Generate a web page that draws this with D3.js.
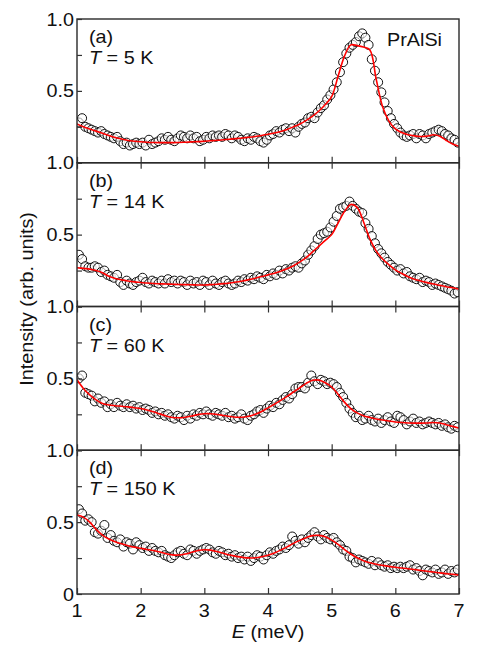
<!DOCTYPE html>
<html>
<head>
<meta charset="utf-8">
<script src="https://cdn.jsdelivr.net/npm/d3@7"></script>
<style>
  body { margin: 0; background: #fff; }
  text { font-family: "Liberation Sans", Arial, sans-serif; fill: #111; }
</style>
</head>
<body>
<svg id="chart" width="498" height="652"></svg>
<script>
// energy grid of the measured points (meV)
var energy = [
  1.03,1.08,1.13,1.18,1.23,1.28,1.33,1.38,1.43,1.48,
  1.53,1.58,1.63,1.68,1.73,1.78,1.83,1.88,1.93,1.98,
  2.03,2.08,2.13,2.18,2.23,2.28,2.33,2.38,2.43,2.48,
  2.53,2.58,2.63,2.68,2.73,2.78,2.83,2.88,2.93,2.98,
  3.03,3.08,3.13,3.18,3.23,3.28,3.33,3.38,3.43,3.48,
  3.53,3.58,3.63,3.68,3.73,3.78,3.83,3.88,3.93,3.98,
  4.03,4.08,4.13,4.18,4.23,4.28,4.33,4.38,4.43,4.48,
  4.53,4.58,4.63,4.68,4.73,4.78,4.83,4.88,4.93,4.98,
  5.03,5.08,5.13,5.18,5.23,5.28,5.33,5.38,5.43,5.48,
  5.53,5.58,5.63,5.68,5.73,5.78,5.83,5.88,5.93,5.98,
  6.03,6.08,6.13,6.18,6.23,6.28,6.33,6.38,6.43,6.48,
  6.53,6.58,6.63,6.68,6.73,6.78,6.83,6.88,6.93,6.98
];

var intensity5K = [
  0.28,0.31,0.25,0.24,0.23,0.22,0.21,0.22,0.20,0.19,
  0.18,0.17,0.18,0.15,0.13,0.14,0.12,0.13,0.14,0.13,
  0.14,0.12,0.16,0.13,0.14,0.15,0.17,0.16,0.18,0.16,
  0.15,0.17,0.19,0.18,0.17,0.19,0.17,0.18,0.15,0.16,
  0.18,0.17,0.19,0.18,0.19,0.18,0.20,0.19,0.17,0.19,
  0.18,0.16,0.15,0.17,0.16,0.18,0.17,0.15,0.14,0.16,
  0.19,0.20,0.22,0.21,0.23,0.24,0.22,0.24,0.21,0.25,
  0.27,0.28,0.31,0.32,0.31,0.35,0.38,0.40,0.44,0.47,
  0.51,0.56,0.63,0.70,0.76,0.80,0.82,0.84,0.88,0.90,
  0.87,0.82,0.72,0.64,0.56,0.49,0.42,0.36,0.31,0.27,
  0.24,0.21,0.19,0.18,0.19,0.20,0.17,0.20,0.19,0.17,
  0.20,0.21,0.22,0.23,0.22,0.20,0.19,0.17,0.16,0.14
];

var intensity14K = [
  0.36,0.33,0.28,0.27,0.27,0.28,0.27,0.24,0.25,0.22,
  0.21,0.20,0.22,0.17,0.15,0.18,0.16,0.15,0.17,0.18,
  0.20,0.17,0.16,0.18,0.17,0.16,0.18,0.16,0.19,0.17,
  0.18,0.16,0.18,0.17,0.15,0.18,0.16,0.17,0.15,0.18,
  0.17,0.15,0.18,0.16,0.15,0.17,0.18,0.16,0.15,0.16,
  0.18,0.17,0.19,0.18,0.20,0.19,0.21,0.20,0.19,0.22,
  0.21,0.23,0.22,0.25,0.23,0.26,0.25,0.27,0.28,0.27,
  0.30,0.32,0.36,0.39,0.42,0.47,0.50,0.51,0.52,0.55,
  0.59,0.63,0.68,0.69,0.70,0.73,0.70,0.68,0.66,0.65,
  0.58,0.54,0.49,0.44,0.40,0.37,0.34,0.31,0.29,0.27,
  0.25,0.26,0.23,0.24,0.21,0.20,0.19,0.20,0.17,0.18,
  0.17,0.15,0.16,0.15,0.14,0.13,0.12,0.11,0.09,0.10
];

var intensity60K = [
  0.50,0.52,0.40,0.39,0.38,0.34,0.36,0.33,0.34,0.30,
  0.32,0.30,0.33,0.31,0.30,0.32,0.30,0.31,0.29,0.30,
  0.28,0.29,0.28,0.26,0.27,0.25,0.26,0.24,0.25,0.23,
  0.22,0.24,0.23,0.21,0.24,0.22,0.25,0.24,0.26,0.25,
  0.27,0.25,0.24,0.26,0.25,0.24,0.26,0.23,0.24,0.22,
  0.23,0.25,0.22,0.21,0.24,0.25,0.27,0.28,0.26,0.29,
  0.31,0.30,0.33,0.32,0.35,0.37,0.36,0.39,0.43,0.44,
  0.44,0.43,0.47,0.52,0.48,0.46,0.49,0.48,0.46,0.47,
  0.46,0.44,0.40,0.37,0.33,0.29,0.26,0.23,0.24,0.21,
  0.22,0.24,0.21,0.20,0.22,0.19,0.21,0.23,0.20,0.19,
  0.24,0.23,0.21,0.18,0.20,0.22,0.19,0.20,0.18,0.19,
  0.20,0.19,0.18,0.19,0.17,0.18,0.16,0.15,0.17,0.16
];

var intensity150K = [
  0.59,0.56,0.51,0.52,0.50,0.43,0.42,0.44,0.48,0.39,
  0.41,0.37,0.36,0.38,0.33,0.36,0.35,0.31,0.36,0.34,
  0.32,0.33,0.30,0.32,0.30,0.29,0.30,0.27,0.26,0.25,
  0.27,0.29,0.30,0.28,0.27,0.31,0.30,0.28,0.30,0.31,
  0.32,0.31,0.29,0.28,0.30,0.29,0.27,0.28,0.26,0.27,
  0.25,0.26,0.24,0.26,0.23,0.25,0.27,0.26,0.24,0.27,
  0.29,0.28,0.30,0.31,0.33,0.32,0.34,0.40,0.37,0.35,
  0.38,0.36,0.39,0.41,0.43,0.40,0.38,0.41,0.39,0.38,
  0.39,0.36,0.34,0.31,0.30,0.26,0.25,0.22,0.24,0.23,
  0.22,0.21,0.23,0.20,0.22,0.20,0.19,0.20,0.18,0.19,
  0.18,0.19,0.18,0.19,0.20,0.17,0.18,0.16,0.13,0.17,
  0.16,0.15,0.17,0.14,0.15,0.17,0.14,0.16,0.15,0.17
];

// fitted curves, sampled every 0.1 meV
var fitEnergy = [
  1.0,1.1,1.2,1.3,1.4,1.5,1.6,1.7,1.8,1.9,
  2.0,2.1,2.2,2.3,2.4,2.5,2.6,2.7,2.8,2.9,
  3.0,3.1,3.2,3.3,3.4,3.5,3.6,3.7,3.8,3.9,
  4.0,4.1,4.2,4.3,4.4,4.5,4.6,4.7,4.8,4.9,
  5.0,5.1,5.2,5.3,5.4,5.5,5.6,5.7,5.8,5.9,
  6.0,6.1,6.2,6.3,6.4,6.5,6.6,6.7,6.8,6.9,
  7.0
];

var fit5K = [
  0.27,0.25,0.235,0.22,0.205,0.19,0.175,0.165,0.155,0.15,
  0.146,0.143,0.141,0.14,0.14,0.14,0.141,0.143,0.145,0.147,
  0.15,0.153,0.156,0.16,0.164,0.168,0.172,0.177,0.183,0.19,
  0.198,0.207,0.218,0.232,0.25,0.27,0.295,0.325,0.36,0.405,
  0.46,0.60,0.74,0.82,0.815,0.805,0.785,0.58,0.39,0.29,
  0.235,0.21,0.195,0.187,0.183,0.185,0.195,0.185,0.155,0.13,
  0.115
];

var fit14K = [
  0.27,0.265,0.26,0.25,0.235,0.21,0.195,0.185,0.177,0.171,
  0.167,0.163,0.16,0.158,0.156,0.155,0.153,0.152,0.151,0.15,
  0.15,0.152,0.155,0.159,0.164,0.17,0.178,0.187,0.197,0.208,
  0.22,0.232,0.246,0.262,0.284,0.31,0.34,0.38,0.42,0.46,
  0.50,0.58,0.66,0.71,0.69,0.59,0.47,0.385,0.33,0.29,
  0.255,0.23,0.207,0.19,0.177,0.166,0.156,0.147,0.138,0.13,
  0.12
];

var fit60K = [
  0.49,0.43,0.385,0.35,0.325,0.315,0.31,0.306,0.302,0.296,
  0.29,0.28,0.268,0.253,0.238,0.228,0.226,0.23,0.238,0.248,
  0.254,0.254,0.249,0.242,0.235,0.23,0.23,0.236,0.25,0.27,
  0.295,0.32,0.347,0.375,0.405,0.435,0.465,0.487,0.488,0.47,
  0.44,0.39,0.335,0.29,0.26,0.24,0.228,0.218,0.21,0.203,
  0.197,0.193,0.19,0.189,0.189,0.19,0.193,0.19,0.178,0.166,
  0.155
];

var fit150K = [
  0.55,0.535,0.50,0.45,0.41,0.383,0.364,0.349,0.336,0.326,
  0.318,0.31,0.302,0.292,0.28,0.272,0.271,0.278,0.29,0.302,
  0.308,0.305,0.295,0.283,0.271,0.262,0.255,0.251,0.252,0.259,
  0.27,0.286,0.306,0.328,0.352,0.373,0.392,0.406,0.408,0.398,
  0.375,0.345,0.31,0.278,0.252,0.232,0.218,0.207,0.199,0.192,
  0.186,0.181,0.176,0.17,0.164,0.158,0.153,0.147,0.142,0.137,
  0.132
];

var panelNames = ["(a)", "(b)", "(c)", "(d)"];
var temperatures = ["5", "14", "60", "150"];
var intensities = [intensity5K, intensity14K, intensity60K, intensity150K];
var fits = [fit5K, fit14K, fit60K, fit150K];
var xTicks = [1, 2, 3, 4, 5, 6, 7];
var yTicks = [0, 0.25, 0.5, 0.75, 1];
var yTickLabels = [0.5, 1];

var svg = d3.select("#chart");
var plotLeft = 77, plotRight = 459, plotTop = 19, panelH = 143.75;
var stretch = 1.1, fontSize = 18;

var x = d3.scaleLinear().domain([1, 7]).range([plotLeft, plotRight]);

svg.append("defs").append("clipPath").attr("id", "plotclip")
  .append("rect").attr("x", plotLeft).attr("y", plotTop)
  .attr("width", plotRight - plotLeft).attr("height", panelH * 4);

function addText(g, str, px, py, anchor) {
  return g.append("text")
    .attr("transform", "translate(" + px + "," + py + ") scale(" + stretch + ",1)")
    .attr("text-anchor", anchor)
    .attr("font-size", fontSize)
    .text(str);
}

var line = d3.line()
  .x(function (d) { return x(d[0]); })
  .y(function (d) { return d[2](d[1]); })
  .curve(d3.curveCatmullRom.alpha(0.5));

for (var p = 0; p < 4; p++) {
  var y0 = plotTop + p * panelH;
  var y = d3.scaleLinear().domain([0, 1]).range([y0 + panelH, y0]);
  var g = svg.append("g").attr("class", "panel");

  // data circles
  var pts = energy.map(function (e, i) { return [e, intensities[p][i]]; });
  g.append("g").attr("clip-path", "url(#plotclip)")
    .selectAll("circle")
    .data(pts)
    .enter().append("circle")
    .attr("cx", function (d) { return x(d[0]); })
    .attr("cy", function (d) { return y(d[1]); })
    .attr("r", 4.5)
    .attr("fill", "#fff")
    .attr("fill-opacity", 0.6)
    .attr("stroke", "#111")
    .attr("stroke-width", 1);

  // fit line
  var fp = fitEnergy.map(function (e, i) { return [e, fits[p][i], y]; });
  g.append("path")
    .attr("clip-path", "url(#plotclip)")
    .attr("d", line(fp))
    .attr("fill", "none")
    .attr("stroke", "#f00")
    .attr("stroke-width", 1.6);

  // frame
  g.append("rect")
    .attr("x", plotLeft).attr("y", y0)
    .attr("width", plotRight - plotLeft).attr("height", panelH)
    .attr("fill", "none").attr("stroke", "#2a2a2a").attr("stroke-width", 1.4);

  // y ticks (inward)
  var ay = g.append("g").attr("transform", "translate(" + plotLeft + ",0)")
    .call(d3.axisLeft(y).tickValues(yTicks).tickSizeInner(-5).tickSizeOuter(0).tickFormat(""));
  ay.select(".domain").remove();
  ay.selectAll("line").attr("stroke", "#333").attr("stroke-width", 1.2);

  // x ticks, bottom of every panel, top of panels b-d
  var ab = g.append("g").attr("transform", "translate(0," + (y0 + panelH) + ")")
    .call(d3.axisBottom(x).tickValues(xTicks).tickSizeInner(-6).tickSizeOuter(0).tickFormat(""));
  ab.select(".domain").remove();
  ab.selectAll("line").attr("stroke", "#333").attr("stroke-width", 1.2);
  if (p > 0) {
    var at = g.append("g").attr("transform", "translate(0," + y0 + ")")
      .call(d3.axisTop(x).tickValues(xTicks).tickSizeInner(-6).tickSizeOuter(0).tickFormat(""));
    at.select(".domain").remove();
    at.selectAll("line").attr("stroke", "#333").attr("stroke-width", 1.2);
  }

  // y tick labels
  var labs = p === 3 ? [0].concat(yTickLabels) : yTickLabels;
  labs.forEach(function (v) {
    addText(g, v === 0 ? "0" : d3.format(".1f")(v), 74, y(v) + 6.5, "end");
  });

  // panel annotations
  addText(g, panelNames[p], 89, y0 + 24, "start");
  var t = addText(g, "", 89, y0 + 45, "start");
  t.append("tspan").attr("font-style", "italic").text("T");
  t.append("tspan").text(" = " + temperatures[p] + " K");
}

// compound name
addText(svg, "PrAlSi", 387, 46, "start");

// x tick labels
xTicks.forEach(function (v) {
  addText(svg, String(v), x(v), 617, "middle");
});

// axis titles
var xt = addText(svg, "", (plotLeft + plotRight) / 2, 638, "middle");
xt.append("tspan").attr("font-style", "italic").text("E");
xt.append("tspan").text(" (meV)");

svg.append("text")
  .attr("transform", "translate(33,299) rotate(-90) scale(" + stretch + ",1)")
  .attr("text-anchor", "middle")
  .attr("font-size", fontSize)
  .text("Intensity (arb. units)");
</script>
</body>
</html>
